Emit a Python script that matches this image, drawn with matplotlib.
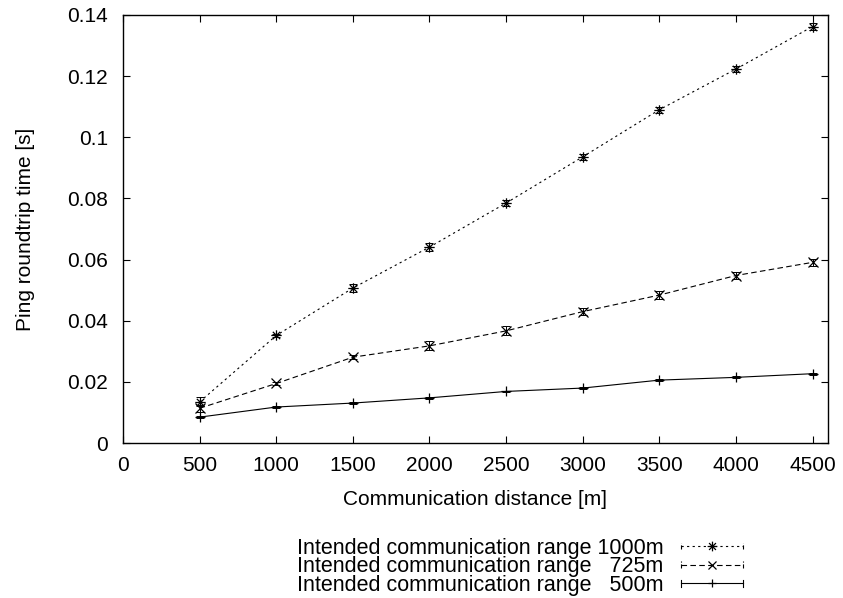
import matplotlib
matplotlib.use("Agg")
import matplotlib.pyplot as plt
from matplotlib.path import Path
from matplotlib.lines import Line2D
from matplotlib.legend_handler import HandlerLine2D

plt.rcParams['font.family'] = ['Liberation Sans', 'DejaVu Sans']

distance = [500, 1000, 1500, 2000, 2500, 3000, 3500, 4000, 4500]
rtt_1000 = [0.0135, 0.0352, 0.0507, 0.0641, 0.0785, 0.0936, 0.1090, 0.1223, 0.1362]
err_1000 = [0.0015, 0.0006, 0.0012, 0.0012, 0.0010, 0.0010, 0.0010, 0.0010, 0.0012]
rtt_725 = [0.0114, 0.0195, 0.0281, 0.0318, 0.0367, 0.0430, 0.0484, 0.0548, 0.0591]
err_725 = [0.0012, 0.0005, 0.0006, 0.0015, 0.0015, 0.0012, 0.0013, 0.0012, 0.0012]
rtt_500 = [0.0085, 0.0118, 0.0131, 0.0148, 0.0169, 0.0180, 0.0206, 0.0215, 0.0227]
err_500 = [0.0004, 0.0003, 0.0003, 0.0003, 0.0003, 0.0003, 0.0003, 0.0003, 0.0003]

labels = ["Intended communication range 1000m",
          "Intended communication range   725m",
          "Intended communication range   500m"]
xticks = [0, 500, 1000, 1500, 2000, 2500, 3000, 3500, 4000, 4500]
yticks = [0, 0.02, 0.04, 0.06, 0.08, 0.1, 0.12, 0.14]
ytick_labels = ["0", "0.02", "0.04", "0.06", "0.08", "0.1", "0.12", "0.14"]

# asterisk marker (+ and x overlaid)
s = 0.7071
ast = Path([(-1, 0), (1, 0), (0, -1), (0, 1), (-s, -s), (s, s), (-s, s), (s, -s)],
           [Path.MOVETO, Path.LINETO] * 4)


class EndTickHandler(HandlerLine2D):
    def create_artists(self, legend, orig_handle, xdescent, ydescent, width,
                       height, fontsize, trans):
        artists = list(super().create_artists(legend, orig_handle, xdescent, ydescent,
                                              width, height, fontsize, trans))
        y = height / 2 - ydescent
        h = height * 0.22
        for x in (-xdescent, -xdescent + width):
            tick = Line2D([x, x], [y - h, y + h], color='black', lw=0.8,
                          linestyle=orig_handle.get_linestyle())
            tick.set_transform(trans)
            artists.append(tick)
        return artists


fig = plt.figure(figsize=(8.43, 5.98), dpi=100)
ax = fig.add_axes([0.146, 0.259, 0.836, 0.716])

series = [
    (rtt_1000, err_1000, (0, (2, 3)), ast, 7.5),
    (rtt_725, err_725, (0, (5, 3)), 'x', 6.5),
    (rtt_500, err_500, '-', '+', 6.5),
]
handles = []
for (y, e, ls, mk, ms), lab in zip(series, labels):
    ax.plot(distance, y, color='black', lw=0.8, linestyle=ls)
    ax.errorbar(distance, y, yerr=e, fmt='none', ecolor='black', elinewidth=0.7,
                capsize=3, capthick=0.7)
    ax.plot(distance, y, color='black', lw=0, marker=mk, markersize=ms,
            markeredgewidth=0.9, fillstyle='none')
    handles.append(Line2D([], [], color='black', lw=0.8, linestyle=ls, marker=mk,
                          markersize=ms - 0.5, markeredgewidth=0.9, fillstyle='none'))

ax.set_xlim(0, 4600)
ax.set_ylim(0, 0.14)
ax.set_xticks(xticks)
ax.set_yticks(yticks)
ax.set_yticklabels(ytick_labels)
ax.tick_params(direction='in', top=True, right=True, labelsize=15, length=5,
               width=0.8)
ax.tick_params(axis='x', pad=9.5)
ax.tick_params(axis='y', pad=11)
for sp in ax.spines.values():
    sp.set_linewidth(1.0)
ax.set_xlabel("Communication distance [m]", fontsize=15)
ax.set_ylabel("Ping roundtrip time [s]", fontsize=15)
ax.xaxis.set_label_coords(0.5, -0.11)
ax.yaxis.set_label_coords(-0.125, 0.5)

fig.legend(handles, labels, loc='upper left', bbox_to_anchor=(0.352, 0.101),
           frameon=False, markerfirst=False, fontsize=15.5, handlelength=2.9,
           labelspacing=-0.11, handletextpad=0.8, borderpad=0, borderaxespad=0,
           handler_map={Line2D: EndTickHandler()})

fig.savefig("out.png", dpi=100)
